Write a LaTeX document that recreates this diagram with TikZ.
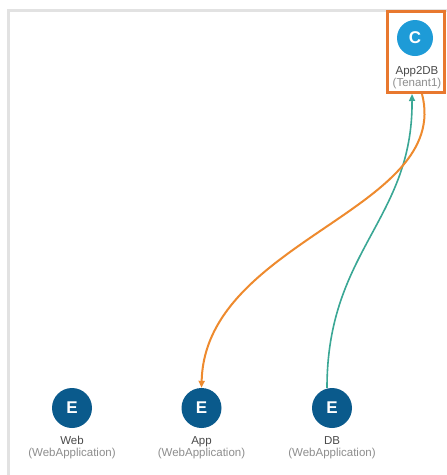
\documentclass[tikz,border=0pt]{standalone}
\usepackage{fontspec}
\setmainfont{Liberation Sans}
\usetikzlibrary{arrows.meta}
\definecolor{frameg}{HTML}{E2E2E2}
\definecolor{cblue}{HTML}{1E9BD7}
\definecolor{eblue}{HTML}{0A5A8C}
\definecolor{orng}{HTML}{EE8A2E}
\definecolor{boxor}{HTML}{E8782E}
\definecolor{teal}{HTML}{3AA795}
\definecolor{namec}{HTML}{4A4A4A}
\definecolor{typec}{HTML}{8E8E8E}
\tikzset{
  epg/.style={circle, fill=eblue, minimum size=40pt, inner sep=0pt, text=white, font=\fontsize{17}{17}\selectfont\bfseries},
  ctr/.style={circle, fill=cblue, minimum size=36pt, inner sep=0pt, text=white, font=\fontsize{17}{17}\selectfont\bfseries},
  lbl/.style={align=center, inner sep=0pt, font=\fontsize{11.5}{11.5}\selectfont},
  selbox/.style={draw=boxor, line width=3pt, minimum width=57pt, minimum height=81pt, inner sep=0pt},
  orarrow/.style={draw=orng, line width=2pt, -{Triangle[length=7pt,width=6pt]}},
  tlarrow/.style={draw=teal, line width=1.6pt, -{Triangle[length=7pt,width=6pt]}}
}
\begin{document}
\begin{tikzpicture}[x=1pt,y=-1pt]
\useasboundingbox (0,0) rectangle (447,475);
\fill[white] (0,0) rectangle (447,475);
% panel frame
\draw[frameg, line width=3pt] (8,475) -- (8,10) -- (447,10);
% contract
\node[selbox] (box) at (416,52) {};
\node[ctr] (c) at (415,38) {C};
\node[lbl] (clbl) at (417,77.5) {\textcolor{namec}{App2DB}\\\textcolor{typec}{(Tenant1)}};
% EPGs
\node[epg] (web) at (72,408) {E};
\node[epg] (app) at (201.5,408) {E};
\node[epg] (db) at (332,408) {E};
\node[lbl] (weblbl) at (72,447.5) {\textcolor{namec}{Web}\\\textcolor{typec}{(WebApplication)}};
\node[lbl] (applbl) at (201.5,447.5) {\textcolor{namec}{App}\\\textcolor{typec}{(WebApplication)}};
\node[lbl] (dblbl) at (332,447.5) {\textcolor{namec}{DB}\\\textcolor{typec}{(WebApplication)}};
% connectors
\draw[tlarrow] ([xshift=-5pt]db.north) .. controls (327,250) and (413,220) .. ([xshift=-4pt]box.south);
\draw[orarrow] ([xshift=6pt]box.south) .. controls (452,210) and (205,240) .. (app.north);
\end{tikzpicture}
\end{document}
